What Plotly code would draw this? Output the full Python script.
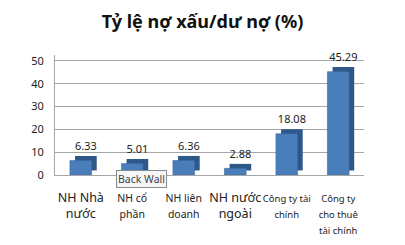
import plotly.graph_objects as go

categories = ["NH Nhà nước", "NH cổ phần", "NH liên doanh", "NH nước ngoài",
              "Công ty tài chính", "Công ty cho thuê tài chính"]
tick_labels = [
    '<span style="font-size:12.5px">NH Nhà<br>nước</span>',
    '<span style="font-size:10.5px">NH cổ<br>phần</span>',
    '<span style="font-size:10.5px">NH liên<br>doanh</span>',
    '<span style="font-size:12.5px">NH nước<br>ngoài</span>',
    '<span style="font-size:9.5px">Công ty tài<br>chính</span>',
    '<span style="font-size:9.5px">Công ty<br>cho thuê<br>tài chính</span>',
]
values = [6.33, 5.01, 6.36, 2.88, 18.08, 45.29]
labels = ["6.33", "5.01", "6.36", "2.88", "18.08", "45.29"]

idx = list(range(len(categories)))
depth_y = 2.0

fig = go.Figure()
# depth (side/top) faces, carrying the data labels
fig.add_trace(go.Bar(
    x=idx, y=values, base=[depth_y] * len(values),
    width=0.42, offset=-0.21 + 0.1,
    marker=dict(color="#2E5889", line=dict(width=0)),
    text=labels, textposition="outside", cliponaxis=False, constraintext="none",
    textfont=dict(size=11, color="#222222", family="Noto Sans"),
    hoverinfo="skip", showlegend=False,
))
# front faces
fig.add_trace(go.Bar(
    x=idx, y=values,
    width=0.42, offset=-0.21,
    marker=dict(color="#4A7EBB", line=dict(color="#3C6A9F", width=0.6)),
    showlegend=False,
))

fig.update_layout(
    width=405, height=245,
    margin=dict(l=55, r=41, t=55, b=70),
    paper_bgcolor="white", plot_bgcolor="white",
    barmode="overlay",
    title=dict(text="<b>Tỷ lệ nợ xấu/dư nợ (%)</b>", x=0.5, xanchor="center",
               y=0.91, yanchor="middle",
               font=dict(size=18, family="Noto Sans", color="#111111")),
    font=dict(family="Noto Sans", color="#222222"),
    annotations=[dict(
        x=0.28, y=-0.035, xref="paper", yref="paper", text="Back Wall", showarrow=False,
        xanchor="center", yanchor="middle",
        font=dict(size=10.5, color="#444444", family="Noto Sans"),
        bgcolor="#F4F6FA", bordercolor="#8A8A8A", borderwidth=1, borderpad=1,
    )],
)
fig.update_xaxes(
    tickvals=idx, ticktext=tick_labels, range=[-0.5, 5.5],
    showgrid=False, showline=True, linecolor="#A6A6A6", linewidth=1,
    ticks="", ticklabelstandoff=12, tickangle=0, automargin=False,
    tickfont=dict(color="#222222", family="Noto Sans"),
)
fig.update_yaxes(
    range=[0, 52.6], tickvals=[0, 10, 20, 30, 40, 50],
    showgrid=True, gridcolor="#A6A6A6", gridwidth=1,
    showline=True, linecolor="#A6A6A6", linewidth=1,
    zeroline=False, ticks="", ticklabelstandoff=8, automargin=False,
    tickfont=dict(size=11, color="#222222", family="Noto Sans"),
)

fig.write_html("out.html")
